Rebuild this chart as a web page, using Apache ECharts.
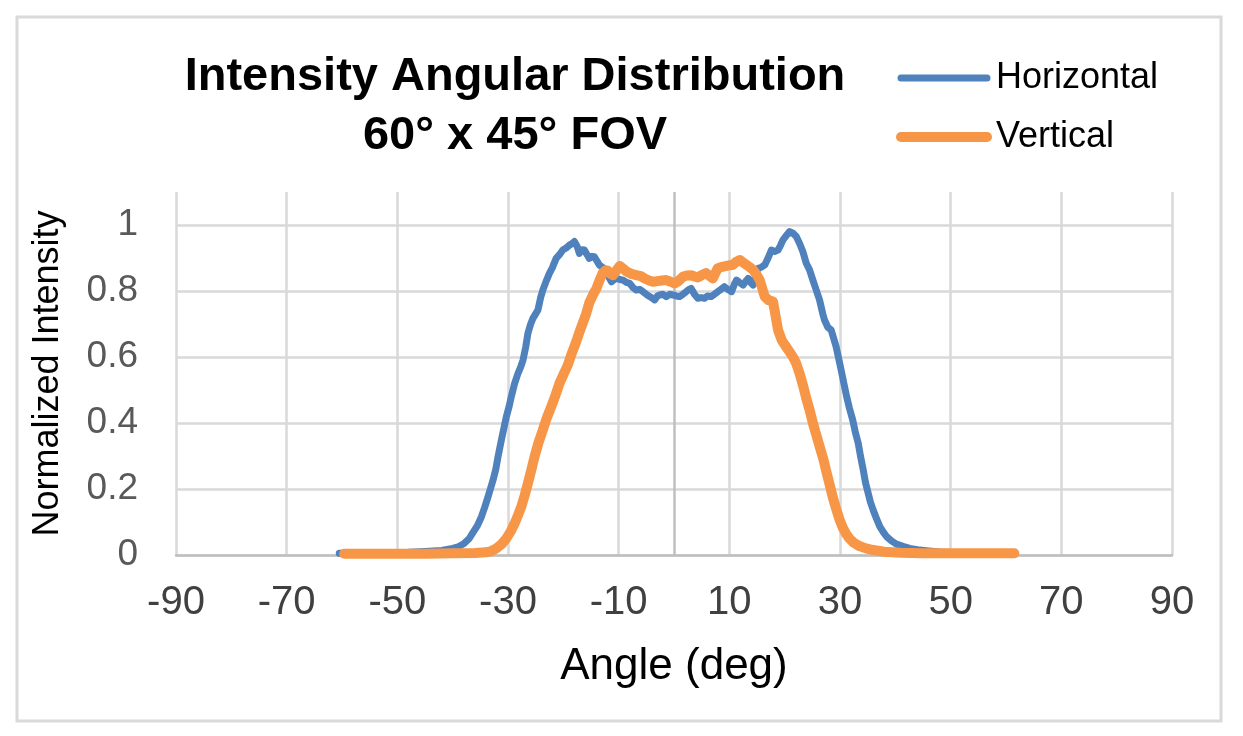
<!DOCTYPE html>
<html>
<head>
<meta charset="utf-8">
<script src="https://cdn.jsdelivr.net/npm/echarts@6/dist/echarts.min.js"></script>
<style>
html,body{margin:0;padding:0;background:#fff;}
#chart{width:1243px;height:736px;}
</style>
</head>
<body>
<div id="chart"></div>
<script>
// Horizontal profile (angle in deg, normalized intensity)
var hAngle = [-60.5,-56,-52,-48,-45,-42,-40,-39,-38,-37,-36.4,-35.5,-34.8,-34.2,-33.6,-32.7,-32.2,-31.8,-31.2,-30.3,-29.8,-29.4,-28.8,-28.2,-27.7,-27.3,-26.8,-26.4,-25.9,-25.5,-24.6,-24.1,-23.7,-23.1,-22.5,-22.0,-21.3,-20.7,-20.1,-19.5,-18.9,-18.4,-18.0,-17.5,-17.1,-16.6,-16.2,-15.7,-15.3,-14.8,-14.4,-13.9,-13.5,-12.8,-12.2,-11.7,-11.3,-10.8,-10.4,-9.8,-9.2,-8.6,-8.0,-7.4,-6.8,-6.2,-5.6,-5.0,-4.4,-3.9,-3.5,-3.0,-2.6,-2.0,-1.4,-0.8,-0.2,0.4,1.0,1.6,2.2,2.7,3.1,3.7,4.3,4.9,5.5,6.1,6.7,7.3,7.9,8.5,9.1,9.7,10.4,10.9,11.3,11.9,12.5,13.0,13.4,13.9,14.3,14.8,15.2,15.8,16.4,17.0,17.6,18.2,18.8,19.3,19.7,20.3,20.9,21.5,22.1,22.7,23.3,23.9,24.5,25.1,25.7,26.3,26.9,27.2,27.8,28.4,28.8,29.3,29.7,30.2,30.7,31.2,31.7,32.3,32.8,33.3,33.7,34.2,34.6,35.1,35.5,36.0,36.6,37.2,37.8,38.4,39.3,40.2,41.4,42.6,44,45.6,48,52,56,60];
var hIntensity = [0.005,0.005,0.006,0.008,0.011,0.014,0.02,0.025,0.034,0.05,0.066,0.09,0.116,0.145,0.177,0.227,0.26,0.298,0.348,0.419,0.45,0.48,0.52,0.55,0.57,0.59,0.63,0.672,0.70,0.717,0.742,0.78,0.803,0.83,0.854,0.87,0.899,0.91,0.924,0.93,0.939,0.944,0.95,0.935,0.914,0.925,0.924,0.91,0.899,0.905,0.904,0.89,0.879,0.87,0.864,0.84,0.828,0.835,0.838,0.835,0.833,0.826,0.823,0.81,0.803,0.805,0.798,0.79,0.783,0.778,0.773,0.785,0.788,0.79,0.783,0.79,0.788,0.785,0.783,0.79,0.798,0.805,0.808,0.79,0.778,0.78,0.778,0.785,0.783,0.79,0.798,0.805,0.813,0.805,0.798,0.82,0.833,0.825,0.818,0.83,0.838,0.825,0.818,0.85,0.869,0.872,0.879,0.90,0.924,0.92,0.924,0.94,0.955,0.968,0.98,0.975,0.965,0.944,0.919,0.884,0.864,0.833,0.803,0.773,0.73,0.712,0.69,0.682,0.66,0.631,0.6,0.561,0.52,0.48,0.445,0.409,0.37,0.338,0.30,0.258,0.22,0.187,0.16,0.136,0.11,0.086,0.07,0.056,0.043,0.033,0.026,0.02,0.016,0.013,0.009,0.006,0.005,0.004];

// Vertical profile
var vAngle = [-59.6,-55,-50,-45,-40,-36,-34,-33,-32.1,-31.2,-30.3,-29.5,-28.8,-28.2,-27.6,-27.0,-26.4,-25.8,-25.2,-24.5,-23.7,-23.0,-22.2,-21.4,-20.7,-19.9,-19.2,-18.5,-17.7,-17.1,-16.5,-15.9,-15.3,-14.6,-14.0,-13.4,-12.9,-12.4,-12.0,-11.5,-11.0,-10.4,-9.8,-9.2,-8.6,-7.7,-6.8,-6.0,-5.3,-4.5,-3.8,-3.0,-2.2,-1.4,-0.6,0.1,0.8,1.6,2.3,3.1,3.7,4.3,5.0,5.8,6.4,7.0,7.5,7.9,8.7,9.5,10.0,10.6,11.2,11.9,12.5,13.1,13.7,14.3,14.9,15.5,16.0,16.4,17.1,17.9,18.3,18.8,19.5,20.3,20.9,21.5,22.1,22.7,23.3,23.9,24.5,25.1,25.7,26.3,27.0,27.5,28.1,28.7,29.3,29.9,30.5,31.1,31.7,32.5,33.5,34.7,36,38,41,45,50,55,61.5];
var vIntensity = [0.004,0.004,0.004,0.004,0.005,0.006,0.008,0.012,0.02,0.032,0.05,0.072,0.096,0.12,0.146,0.18,0.217,0.257,0.298,0.34,0.379,0.415,0.449,0.485,0.52,0.55,0.575,0.61,0.645,0.675,0.702,0.73,0.765,0.79,0.808,0.835,0.854,0.862,0.862,0.852,0.848,0.862,0.876,0.868,0.859,0.852,0.848,0.845,0.838,0.832,0.828,0.83,0.832,0.833,0.828,0.823,0.83,0.843,0.847,0.848,0.844,0.841,0.848,0.854,0.846,0.838,0.855,0.869,0.873,0.876,0.878,0.879,0.888,0.894,0.886,0.879,0.872,0.864,0.85,0.833,0.805,0.783,0.772,0.768,0.73,0.682,0.65,0.63,0.615,0.60,0.58,0.55,0.515,0.475,0.44,0.40,0.365,0.33,0.29,0.255,0.215,0.175,0.14,0.108,0.083,0.064,0.05,0.037,0.027,0.02,0.015,0.01,0.007,0.005,0.005,0.005,0.005];

var seriesNames = ['Horizontal', 'Vertical'];
var xTickMin = -90, xTickMax = 90, xTickStep = 20;
var yTickMin = 0, yTickMax = 1.1, yTickStep = 0.2;
var titleLines = ['Intensity Angular Distribution', '60° x 45° FOV'];
var xAxisTitle = 'Angle (deg)';
var yAxisTitle = 'Normalized Intensity';

function zip(a, b) { return a.map(function (v, i) { return [v, b[i]]; }); }

var FONT = '"Liberation Sans", Arial, sans-serif';
var chart = echarts.init(document.getElementById('chart'), null, {renderer: 'canvas'});
chart.setOption({
  backgroundColor: '#ffffff',
  animation: false,
  title: {
    text: titleLines.join('\n'),
    left: 515, top: 47.5, padding: 0,
    textAlign: 'center',
    textStyle: {fontFamily: FONT, fontSize: 47, fontWeight: 'bold', color: '#000', lineHeight: 59}
  },
  legend: {
    orient: 'vertical', left: 896, top: 58, padding: 0,
    itemWidth: 86, itemHeight: 14, itemGap: 19,
    data: seriesNames,
    itemStyle: {opacity: 0},
    lineStyle: {width: 'inherit', cap: 'round'},
    textStyle: {fontFamily: FONT, fontSize: 36, color: '#000', lineHeight: 40, padding: [0, 0, 0, 4]}
  },
  graphic: [{
    type: 'rect', silent: true, z: -10,
    shape: {x: 17, y: 17, width: 1204, height: 704},
    style: {fill: 'none', stroke: '#d9d9d9', lineWidth: 3}
  }],
  grid: {left: 176, right: 71, top: 192, bottom: 181, containLabel: false, outerBoundsMode: 'none'},
  xAxis: [{
    type: 'value', min: xTickMin, max: xTickMax, interval: xTickStep,
    name: xAxisTitle, nameLocation: 'middle', nameGap: 90, nameMoveOverlap: false,
    nameTextStyle: {fontFamily: FONT, fontSize: 44, color: '#000'},
    axisLine: {show: true, onZero: false, lineStyle: {color: '#bfbfbf', width: 2.5}},
    axisTick: {show: false},
    axisLabel: {fontFamily: FONT, fontSize: 40, color: '#404040', margin: 28},
    splitLine: {show: true, lineStyle: {color: '#d9d9d9', width: 2.5}}
  }, {
    type: 'value', min: xTickMin, max: xTickMax, interval: 90, position: 'bottom',
    axisLine: {show: false}, axisTick: {show: false}, axisLabel: {show: false},
    splitLine: {show: true, showMinLine: false, showMaxLine: false, lineStyle: {color: '#bfbfbf', width: 2.5}}
  }],
  yAxis: {
    type: 'value', min: yTickMin, max: yTickMax, interval: yTickStep,
    name: yAxisTitle, nameLocation: 'middle', nameGap: 110, nameRotate: 90, nameMoveOverlap: false,
    nameTextStyle: {fontFamily: FONT, fontSize: 36, color: '#000'},
    axisLine: {show: false},
    axisTick: {show: false},
    axisLabel: {
      fontFamily: FONT, fontSize: 37, color: '#595959', margin: 38,
      formatter: function (v) { return v > 1.0001 ? '' : String(Math.round(v * 10) / 10); }
    },
    splitLine: {show: true, showMaxLine: false, lineStyle: {color: '#d9d9d9', width: 2.5}}
  },
  series: [{
    name: seriesNames[0], type: 'line', showSymbol: false, symbol: 'none',
    data: zip(hAngle, hIntensity),
    lineStyle: {color: '#4f81bd', width: 7, cap: 'round', join: 'round'},
    itemStyle: {color: '#4f81bd'}, z: 3
  }, {
    name: seriesNames[1], type: 'line', showSymbol: false, symbol: 'none',
    data: zip(vAngle, vIntensity),
    lineStyle: {color: '#f79646', width: 10, cap: 'round', join: 'round'},
    itemStyle: {color: '#f79646'}, z: 4
  }]
});
</script>
</body>
</html>
